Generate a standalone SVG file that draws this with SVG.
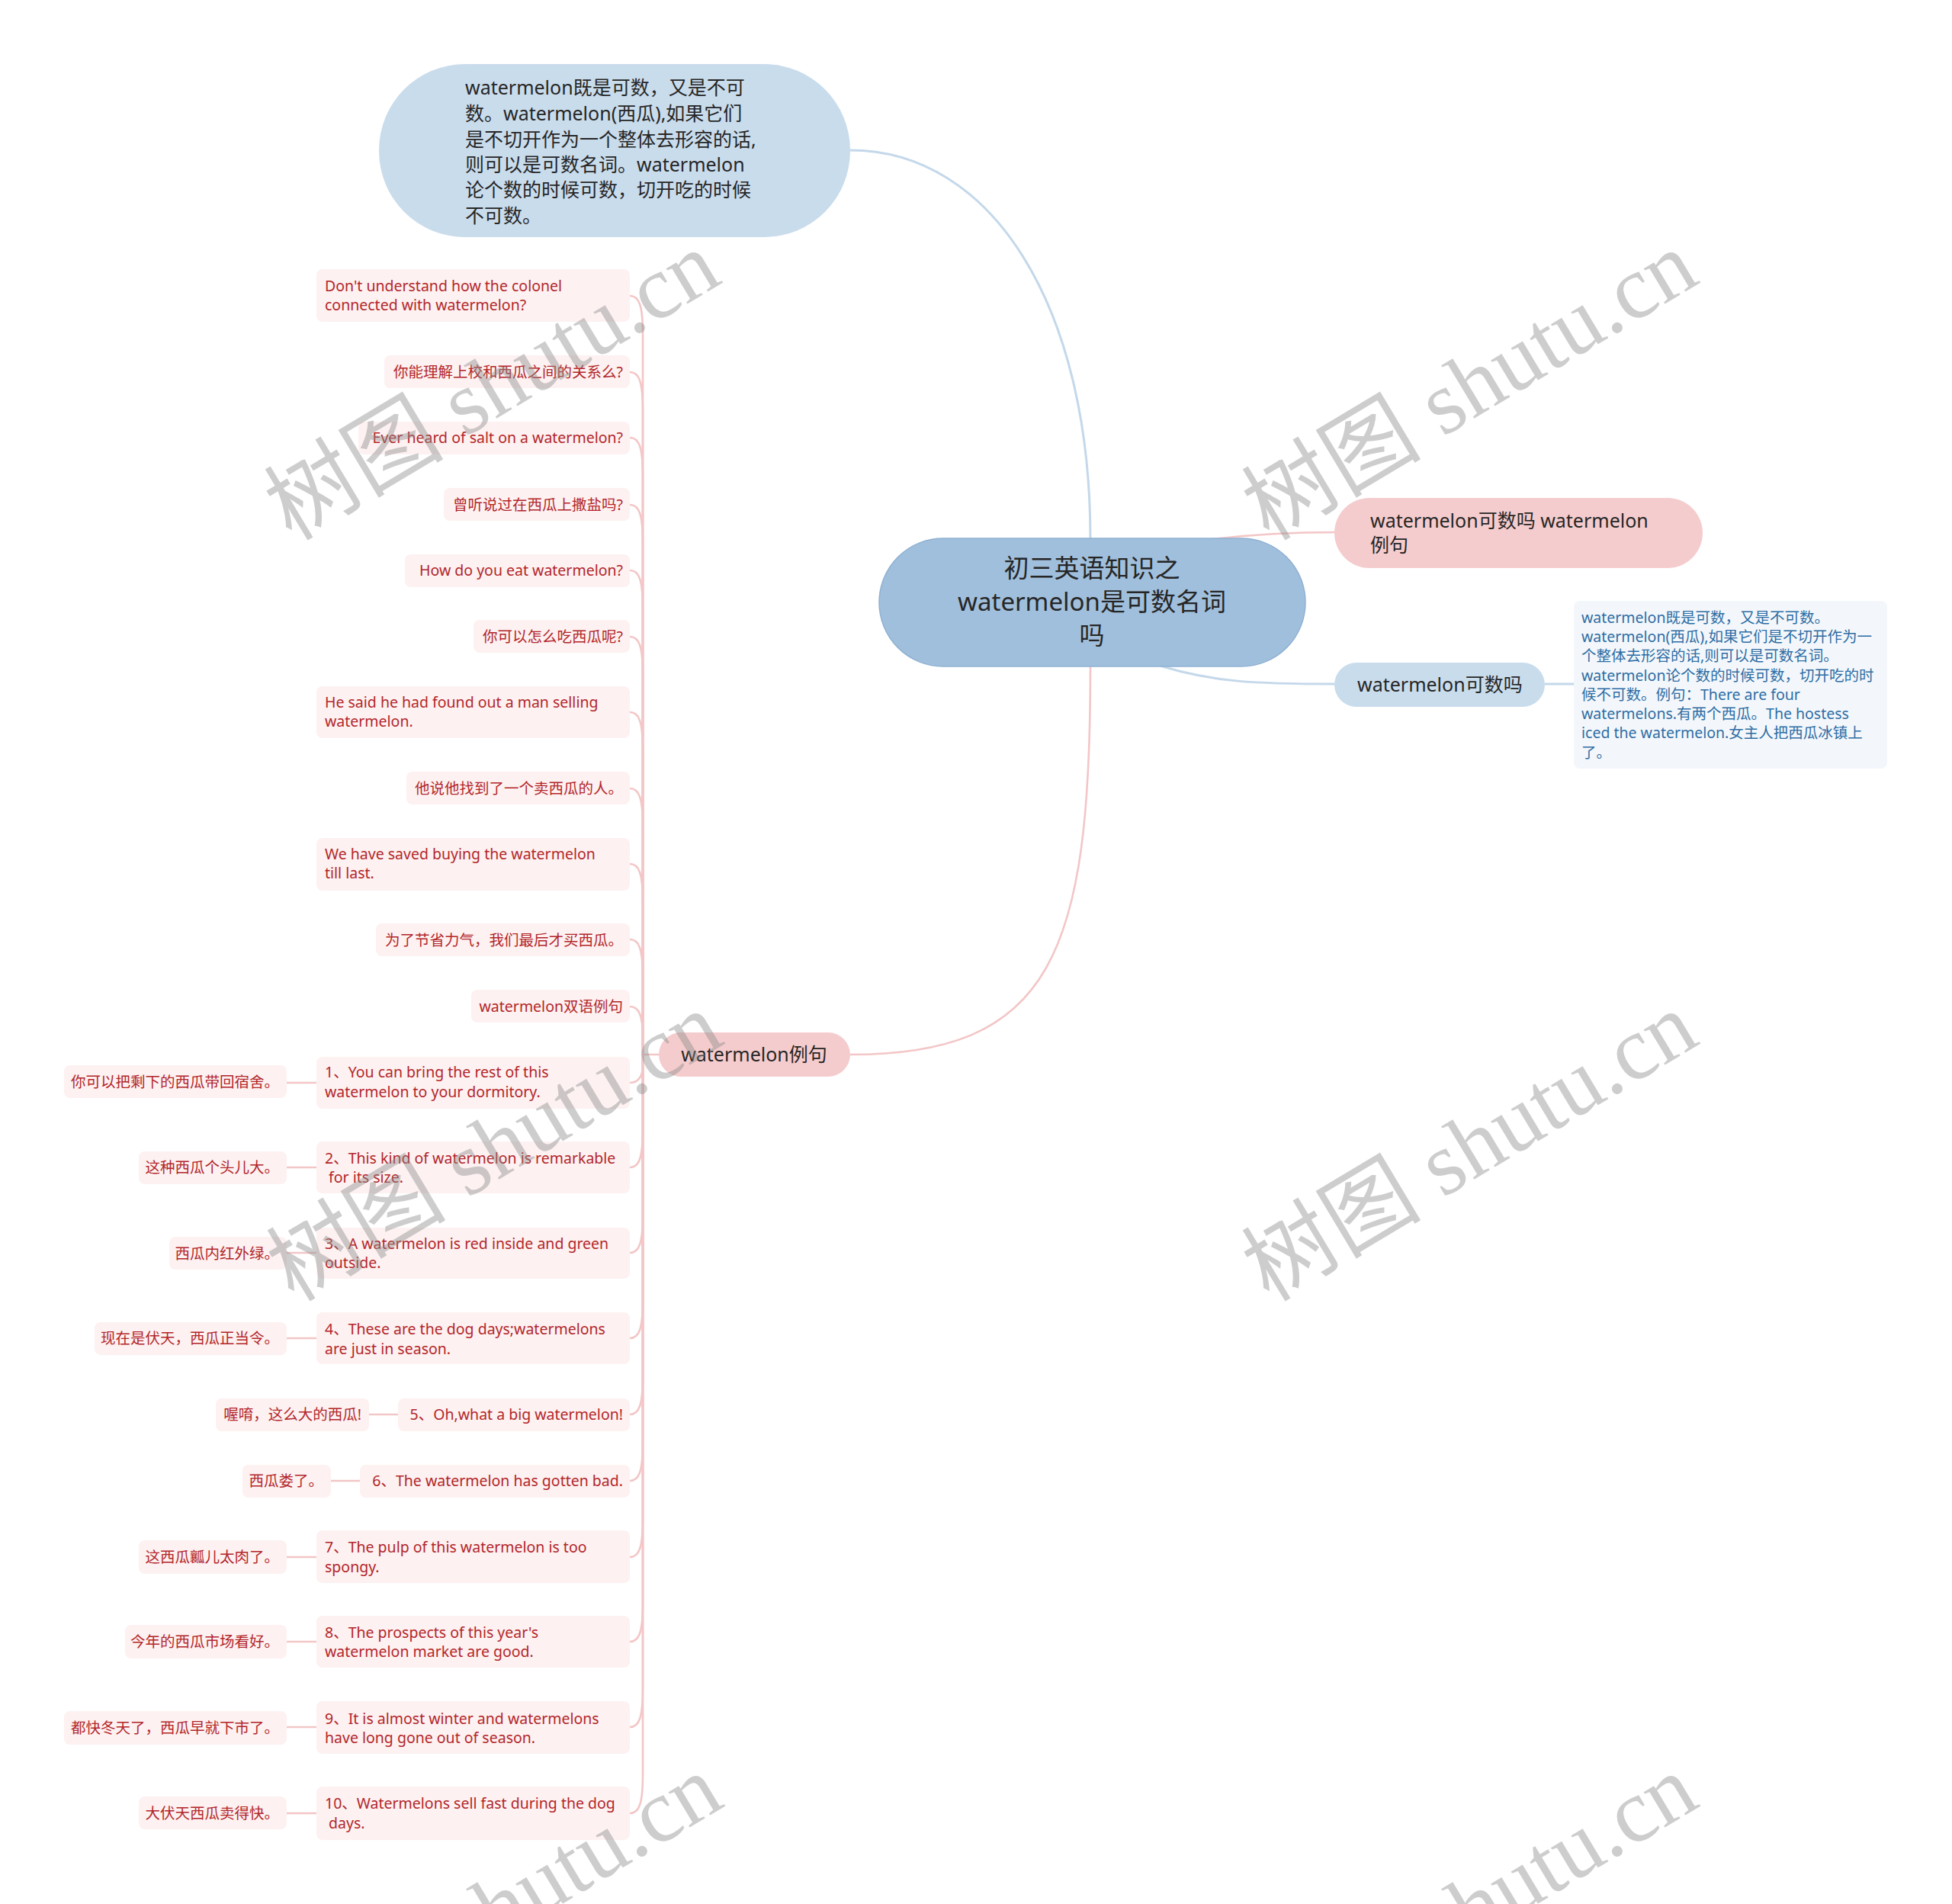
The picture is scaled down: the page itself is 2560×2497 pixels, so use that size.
<svg xmlns="http://www.w3.org/2000/svg" width="2560" height="2497" viewBox="0 0 2560 2497">
<style>
text{font-family:"Noto Sans","Noto Sans CJK SC",sans-serif;}
.big{font-size:25px;fill:#262626;}
.root{font-size:33px;fill:#262626;}
.note{font-size:19.5px;fill:#2e6da4;}
.c{font-size:19.5px;fill:#b3262a;}
.cb{fill:#fdf1f1;}
.pl{fill:none;stroke:#f3c6c7;stroke-width:2.6;}
.bl{fill:none;stroke:#c4d8ea;stroke-width:3;}
.wm{font-family:"Liberation Serif","Noto Sans CJK SC",serif;font-size:118px;fill:#8a8a8a;opacity:0.42;}
</style>
<rect width="2560" height="2497" fill="#ffffff"/>
<g id="connectors">
<path class="bl" d="M1115 197 C1300 197 1430 400 1430 707"/>
<path class="pl" stroke-width="3" d="M1590 707 C1650 700 1700 698 1752 698"/>
<path class="bl" d="M1518 872 C1590 895 1650 897 1750 897"/>
<path class="bl" d="M2026 897 L2064 897"/>
<path class="pl" stroke-width="3" d="M1430 874 C1430 1250 1380 1383 1115 1383"/>
<path class="pl" d="M826 388 C838 388 843 400 843 438 L843 1383 L865 1383"/>
<path class="pl" d="M826 488 C838 488 843 500 843 538 L843 1383"/>
<path class="pl" d="M826 574 C838 574 843 586 843 624 L843 1383"/>
<path class="pl" d="M826 662 C838 662 843 674 843 712 L843 1383"/>
<path class="pl" d="M826 748 C838 748 843 760 843 798 L843 1383"/>
<path class="pl" d="M826 835 C838 835 843 847 843 885 L843 1383"/>
<path class="pl" d="M826 934 C838 934 843 946 843 984 L843 1383"/>
<path class="pl" d="M826 1034 C838 1034 843 1046 843 1084 L843 1383"/>
<path class="pl" d="M826 1133 C838 1133 843 1145 843 1183 L843 1383"/>
<path class="pl" d="M826 1232 C838 1232 843 1244 843 1282 L843 1383"/>
<path class="pl" d="M826 1320 C838 1320 843 1332 843 1360 L843 1383"/>
<path class="pl" d="M826 1420 C838 1420 843 1410 843 1398 L843 1383"/>
<path class="pl" d="M826 1531 C838 1531 843 1519 843 1481 L843 1383"/>
<path class="pl" d="M826 1643 C838 1643 843 1631 843 1593 L843 1383"/>
<path class="pl" d="M826 1755 C838 1755 843 1743 843 1705 L843 1383"/>
<path class="pl" d="M826 1855 C838 1855 843 1843 843 1805 L843 1383"/>
<path class="pl" d="M826 1942 C838 1942 843 1930 843 1892 L843 1383"/>
<path class="pl" d="M826 2042 C838 2042 843 2030 843 1992 L843 1383"/>
<path class="pl" d="M826 2153 C838 2153 843 2141 843 2103 L843 1383"/>
<path class="pl" d="M826 2265 C838 2265 843 2253 843 2215 L843 1383"/>
<path class="pl" d="M826 2378 C838 2378 843 2366 843 2328 L843 1383"/>
<path class="pl" stroke-width="3" d="M376 1420 L415 1420"/>
<path class="pl" stroke-width="3" d="M376 1531 L415 1531"/>
<path class="pl" stroke-width="3" d="M376 1643 L415 1643"/>
<path class="pl" stroke-width="3" d="M376 1755 L415 1755"/>
<path class="pl" stroke-width="3" d="M484 1855 L522 1855"/>
<path class="pl" stroke-width="3" d="M434 1942 L472 1942"/>
<path class="pl" stroke-width="3" d="M376 2042 L415 2042"/>
<path class="pl" stroke-width="3" d="M376 2153 L415 2153"/>
<path class="pl" stroke-width="3" d="M376 2265 L415 2265"/>
<path class="pl" stroke-width="3" d="M376 2378 L415 2378"/>
</g>
<g id="root">
<rect x="1153" y="706" width="559" height="168" rx="84" fill="#a0bfdc" stroke="#8fb1d2" stroke-width="1.5"/>
<text class="root" text-anchor="middle" x="1432" y="757">初三英语知识之</text>
<text class="root" text-anchor="middle" x="1432" y="801">watermelon是可数名词</text>
<text class="root" text-anchor="middle" x="1432" y="845">吗</text>
</g>
<g id="desc">
<rect x="497" y="84" width="618" height="227" rx="113" fill="#c9dcec"/>
<text class="big" x="610" y="124">watermelon既是可数，又是不可</text>
<text class="big" x="610" y="158">数。watermelon(西瓜),如果它们</text>
<text class="big" x="610" y="192">是不切开作为一个整体去形容的话,</text>
<text class="big" x="610" y="225">则可以是可数名词。watermelon</text>
<text class="big" x="610" y="258">论个数的时候可数，切开吃的时候</text>
<text class="big" x="610" y="292">不可数。</text>
</g>
<g id="n-examples-title">
<rect x="1750" y="653" width="483" height="92" rx="46" fill="#f5cccd"/>
<text class="big" x="1797" y="692">watermelon可数吗 watermelon</text>
<text class="big" x="1797" y="724">例句</text>
</g>
<g id="n-countable">
<rect x="1750" y="869" width="276" height="58" rx="29" fill="#c9dcec"/>
<text class="big" x="1780" y="907">watermelon可数吗</text>
</g>
<g id="n-note">
<rect x="2064" y="788" width="411" height="220" rx="8" fill="#f3f7fb"/>
<text class="note" x="2074" y="817">watermelon既是可数，又是不可数。</text>
<text class="note" x="2074" y="842">watermelon(西瓜),如果它们是不切开作为一</text>
<text class="note" x="2074" y="867">个整体去形容的话,则可以是可数名词。</text>
<text class="note" x="2074" y="893">watermelon论个数的时候可数，切开吃的时</text>
<text class="note" x="2074" y="918">候不可数。例句：There are four</text>
<text class="note" x="2074" y="943">watermelons.有两个西瓜。The hostess</text>
<text class="note" x="2074" y="968">iced the watermelon.女主人把西瓜冰镇上</text>
<text class="note" x="2074" y="994">了。</text>
</g>
<g id="n-sentences">
<rect x="864" y="1354" width="251" height="58" rx="29" fill="#f5cccd"/>
<text class="big" text-anchor="middle" x="989" y="1392">watermelon例句</text>
</g>
<g id="c1"><rect class="cb" x="415" y="353" width="411" height="69" rx="8"/><text class="c" x="426" y="382">Don't understand how the colonel</text><text class="c" x="426" y="407">connected with watermelon?</text></g>
<g id="c2"><rect class="cb" x="504" y="466" width="322" height="43" rx="8"/><text class="c" text-anchor="end" x="817" y="495">你能理解上校和西瓜之间的关系么?</text></g>
<g id="c3"><rect class="cb" x="470" y="553" width="356" height="43" rx="8"/><text class="c" text-anchor="end" x="817" y="581">Ever heard of salt on a watermelon?</text></g>
<g id="c4"><rect class="cb" x="582" y="640" width="244" height="43" rx="8"/><text class="c" text-anchor="end" x="817" y="669">曾听说过在西瓜上撒盐吗?</text></g>
<g id="c5"><rect class="cb" x="531" y="727" width="295" height="43" rx="8"/><text class="c" text-anchor="end" x="817" y="755">How do you eat watermelon?</text></g>
<g id="c6"><rect class="cb" x="621" y="813" width="205" height="43" rx="8"/><text class="c" text-anchor="end" x="817" y="842">你可以怎么吃西瓜呢?</text></g>
<g id="c7"><rect class="cb" x="415" y="900" width="411" height="68" rx="8"/><text class="c" x="426" y="928">He said he had found out a man selling</text><text class="c" x="426" y="953">watermelon.</text></g>
<g id="c8"><rect class="cb" x="533" y="1012" width="293" height="43" rx="8"/><text class="c" text-anchor="end" x="817" y="1041">他说他找到了一个卖西瓜的人。</text></g>
<g id="c9"><rect class="cb" x="415" y="1099" width="411" height="69" rx="8"/><text class="c" x="426" y="1127">We have saved buying the watermelon</text><text class="c" x="426" y="1152">till last.</text></g>
<g id="c10"><rect class="cb" x="493" y="1211" width="333" height="43" rx="8"/><text class="c" text-anchor="end" x="817" y="1240">为了节省力气，我们最后才买西瓜。</text></g>
<g id="c11"><rect class="cb" x="618" y="1298" width="208" height="43" rx="8"/><text class="c" text-anchor="end" x="817" y="1327">watermelon双语例句</text></g>
<g id="c12"><rect class="cb" x="415" y="1386" width="411" height="68" rx="8"/><text class="c" x="426" y="1413">1、You can bring the rest of this</text><text class="c" x="426" y="1439">watermelon to your dormitory.</text></g>
<g id="t12"><rect class="cb" x="84" y="1397" width="292" height="43" rx="8"/><text class="c" text-anchor="end" x="366" y="1426">你可以把剩下的西瓜带回宿舍。</text></g>
<g id="c13"><rect class="cb" x="415" y="1497" width="411" height="68" rx="8"/><text class="c" x="426" y="1526">2、This kind of watermelon is remarkable</text><text class="c" x="426" y="1551">&#160;for its size.</text></g>
<g id="t13"><rect class="cb" x="182" y="1510" width="194" height="43" rx="8"/><text class="c" text-anchor="end" x="366" y="1538">这种西瓜个头儿大。</text></g>
<g id="c14"><rect class="cb" x="415" y="1610" width="411" height="67" rx="8"/><text class="c" x="426" y="1638">3、A watermelon is red inside and green</text><text class="c" x="426" y="1663">outside.</text></g>
<g id="t14"><rect class="cb" x="222" y="1622" width="154" height="43" rx="8"/><text class="c" text-anchor="end" x="366" y="1651">西瓜内红外绿。</text></g>
<g id="c15"><rect class="cb" x="415" y="1721" width="411" height="68" rx="8"/><text class="c" x="426" y="1750">4、These are the dog days;watermelons</text><text class="c" x="426" y="1776">are just in season.</text></g>
<g id="t15"><rect class="cb" x="124" y="1734" width="252" height="43" rx="8"/><text class="c" text-anchor="end" x="366" y="1762">现在是伏天，西瓜正当令。</text></g>
<g id="c16"><rect class="cb" x="522" y="1834" width="304" height="43" rx="8"/><text class="c" text-anchor="end" x="817" y="1862">5、Oh,what a big watermelon!</text></g>
<g id="t16"><rect class="cb" x="283" y="1834" width="201" height="43" rx="8"/><text class="c" text-anchor="end" x="474" y="1862">喔唷，这么大的西瓜!</text></g>
<g id="c17"><rect class="cb" x="472" y="1921" width="354" height="43" rx="8"/><text class="c" text-anchor="end" x="817" y="1949">6、The watermelon has gotten bad.</text></g>
<g id="t17"><rect class="cb" x="318" y="1921" width="116" height="43" rx="8"/><text class="c" text-anchor="end" x="424" y="1949">西瓜娄了。</text></g>
<g id="c18"><rect class="cb" x="415" y="2007" width="411" height="69" rx="8"/><text class="c" x="426" y="2036">7、The pulp of this watermelon is too</text><text class="c" x="426" y="2062">spongy.</text></g>
<g id="t18"><rect class="cb" x="182" y="2020" width="194" height="44" rx="8"/><text class="c" text-anchor="end" x="366" y="2049">这西瓜瓤儿太肉了。</text></g>
<g id="c19"><rect class="cb" x="415" y="2119" width="411" height="68" rx="8"/><text class="c" x="426" y="2148">8、The prospects of this year's</text><text class="c" x="426" y="2173">watermelon market are good.</text></g>
<g id="t19"><rect class="cb" x="164" y="2131" width="212" height="44" rx="8"/><text class="c" text-anchor="end" x="366" y="2160">今年的西瓜市场看好。</text></g>
<g id="c20"><rect class="cb" x="415" y="2231" width="411" height="69" rx="8"/><text class="c" x="426" y="2261">9、It is almost winter and watermelons</text><text class="c" x="426" y="2286">have long gone out of season.</text></g>
<g id="t20"><rect class="cb" x="84" y="2244" width="292" height="44" rx="8"/><text class="c" text-anchor="end" x="366" y="2273">都快冬天了，西瓜早就下市了。</text></g>
<g id="c21"><rect class="cb" x="415" y="2343" width="411" height="70" rx="8"/><text class="c" x="426" y="2372">10、Watermelons sell fast during the dog</text><text class="c" x="426" y="2398">&#160;days.</text></g>
<g id="t21"><rect class="cb" x="182" y="2356" width="194" height="43" rx="8"/><text class="c" text-anchor="end" x="366" y="2385">大伏天西瓜卖得快。</text></g>
<g id="watermark">
<text class="wm" text-anchor="middle" transform="translate(666 540) rotate(-31)">树图 shutu.cn</text>
<text class="wm" text-anchor="middle" transform="translate(1948 540) rotate(-31)">树图 shutu.cn</text>
<text class="wm" text-anchor="middle" transform="translate(669 1538) rotate(-31)">树图 shutu.cn</text>
<text class="wm" text-anchor="middle" transform="translate(1948 1538) rotate(-31)">树图 shutu.cn</text>
<text class="wm" text-anchor="middle" transform="translate(669 2538) rotate(-31)">树图 shutu.cn</text>
<text class="wm" text-anchor="middle" transform="translate(1948 2538) rotate(-31)">树图 shutu.cn</text>
</g>
</svg>
